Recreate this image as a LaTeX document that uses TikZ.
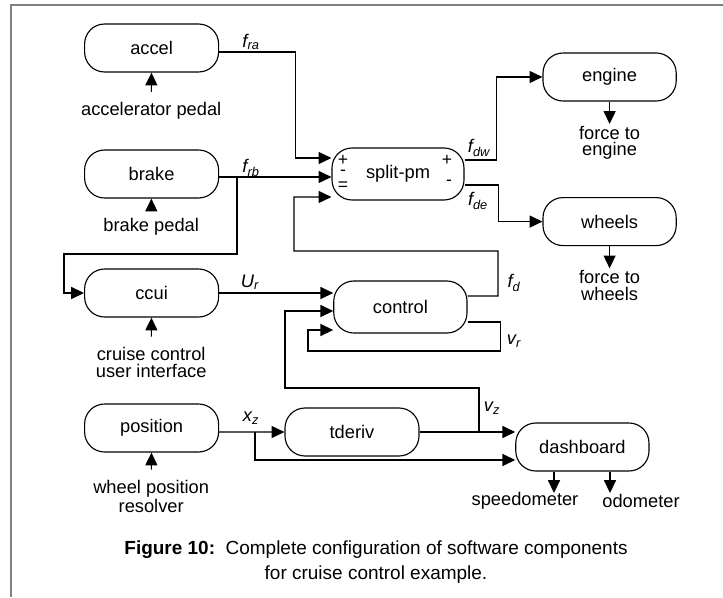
\documentclass[tikz,border=0pt]{standalone}
\usepackage{fontspec}
\setmainfont{Liberation Sans}
\usetikzlibrary{positioning,arrows.meta}
\tikzset {
    style block/.style={
        draw=black,
        thick,
        rectangle, % rounded box of a component
        rounded corners=.5cm,
        minimum width=3.35cm,
        minimum height=1.2cm,
        align=center,
    },
    style text/.style={
        draw=none,
        inner sep=1.5pt,
        align=center,
        font=\fontsize{13}{11.6}\selectfont,
    },
    style signal/.style={
        draw=none,
        inner sep=0pt,
        font=\fontsize{13}{13}\selectfont\itshape,
    },
    style sign/.style={
        draw=none,
        inner sep=0pt,
        font=\fontsize{12.5}{12.5}\selectfont,
    },
}
\begin{document}
\begin{tikzpicture}
[font=\fontsize{13}{13}\selectfont, >={Triangle[length=3.2mm, width=3mm]}]
\useasboundingbox (0,0) rectangle (18.075,-14.925);
\draw[gray, line width=1pt] (18.075,-0.125) -- (0.275,-0.125) -- (0.275,-14.925);

% components
\node[style block] at (3.79, -1.2) (accel) {accel};
\node[style block] at (3.79, -4.35) (brake) {brake};
\node[style block] at (3.79, -7.325) (ccui) {ccui};
\node[style block] at (3.79, -10.7) (position) {position};
\node[style block, minimum width=3.3cm, minimum height=1.3cm] at (9.95, -4.35) (split) {split-pm};
\node[style block, minimum width=3.33cm] at (15.24, -1.925) (engine) {engine};
\node[style block, minimum width=3.33cm] at (15.24, -5.54) (wheels) {wheels};
\node[style block, minimum width=3.33cm, minimum height=1.3cm] at (10.01, -7.675) (control) {control};
\node[style block] at (8.8, -10.8) (tderiv) {tderiv};
\node[style block, minimum width=3.33cm] at (14.56, -11.175) (dash) {dashboard};

% signs of split-pm
\node[style sign] at (8.575, -4.0) (pa) {+};
\node[style sign] at (8.575, -4.33) (ma) {-};
\node[style sign] at (8.575, -4.66) (ea) {=};
\node[style sign] at (11.175, -4.0) (pb) {+};
\node[style sign] at (11.225, -4.58) (mb) {-};

% outside world
\node[style text] at (3.78, -2.78) (accped) {accelerator pedal};
\node[style text] at (3.78, -5.675) (brkped) {brake pedal};
\node[style text] at (3.78, -9.06) (ccped) {cruise control\\user interface};
\node[style text] at (3.78, -12.41) (wpr) {wheel position\\resolver};
\node[style text] at (15.24, -3.575) (toeng) {force to\\engine};
\node[style text] at (15.24, -7.14) (towhl) {force to\\wheels};
\node[style text] at (13.125, -12.525) (speedo) {speedometer};
\node[style text] at (16.025, -12.525) (odo) {odometer};

% signal names
\node[style signal] at (6.275, -1.05) (fra) {f\textsubscript{ra}};
\node[style signal] at (6.275, -4.2) (frb) {f\textsubscript{rb}};
\node[style signal] at (6.25, -7.05) (ur) {U\textsubscript{r}};
\node[style signal] at (6.275, -10.45) (xzl) {x\textsubscript{z}};
\node[style signal] at (11.975, -3.7) (fdw) {f\textsubscript{dw}};
\node[style signal] at (11.95, -5.025) (fde) {f\textsubscript{de}};
\node[style signal] at (12.85, -7.075) (fd) {f\textsubscript{d}};
\node[style signal] at (12.85, -8.525) (vr) {v\textsubscript{r}};
\node[style signal] at (12.3, -10.2) (vzl) {v\textsubscript{z}};

\coordinate (brk) at (5.925, -4.425);
\coordinate (xz) at (6.375, -10.8);
\coordinate (vz) at (11.975, -10.8);
\coordinate (sp) at (13.85, -12.325);
\coordinate (od) at (15.25, -12.325);

\draw[thick, ->, shorten <=6pt] (accped) -- (accel);
\draw[thick, ->, shorten <=6pt] (brkped) -- (brake);
\draw[thick, ->, shorten <=6pt] (ccped) -- (ccui);
\draw[thick, ->, shorten <=6pt] (wpr) -- (position);
\draw[thick, ->] (engine) -- (toeng);
\draw[thick, ->] (wheels) -- (towhl);
\draw[thick, ->] (sp |- dash.south) -- (sp);
\draw[thick, ->] (od |- dash.south) -- (od);

\draw[thick, ->] ([yshift=-1mm]accel.east) -- ++(1.9,0) |- ([yshift=4mm]split.west);
\draw[thick, ->] ([yshift=-0.75mm]brake.east) -- ([yshift=-0.75mm]split.west);
\draw[thick, ->] (brk) |- (1.6,-6.35) |- (ccui.west);
\draw[thick, ->] ([yshift=2.75mm]control.east) -| (12.45,-6.275) -| (7.35,-4.925) -- ([yshift=-5.75mm]split.west);
\draw[thick, ->] ([yshift=3.5mm]split.east) -- ++(0.8,0) |- (engine.west);
\draw[thick, ->] ([yshift=-2.75mm]split.east) -- ++(0.85,0) |- (wheels.west);
\draw[thick, ->] (ccui.east) -- (control.west |- ccui.east);
\draw[thick, ->] (vz) |- (7.125,-9.7) |- ([yshift=-1mm]control.west);
\draw[thick, ->] ([yshift=-3.75mm]control.east) -- ++(0.825,0) |- (7.7,-8.775) |- ([yshift=-5.75mm]control.west);
\draw[thick, ->] ([yshift=-1mm]position.east) -- (tderiv.west);
\draw[thick, ->] (xz) |- ([yshift=-3.25mm]dash.west);
\draw[thick, ->] (tderiv.east) -- (dash.west |- tderiv.east);

\node[align=center, font=\fontsize{13.5}{17.8}\selectfont] at (9.4, -14.05) (caption) {\textbf{Figure 10:}\ \ Complete configuration of software components\\for cruise control example.};
\end{tikzpicture}
\end{document}
